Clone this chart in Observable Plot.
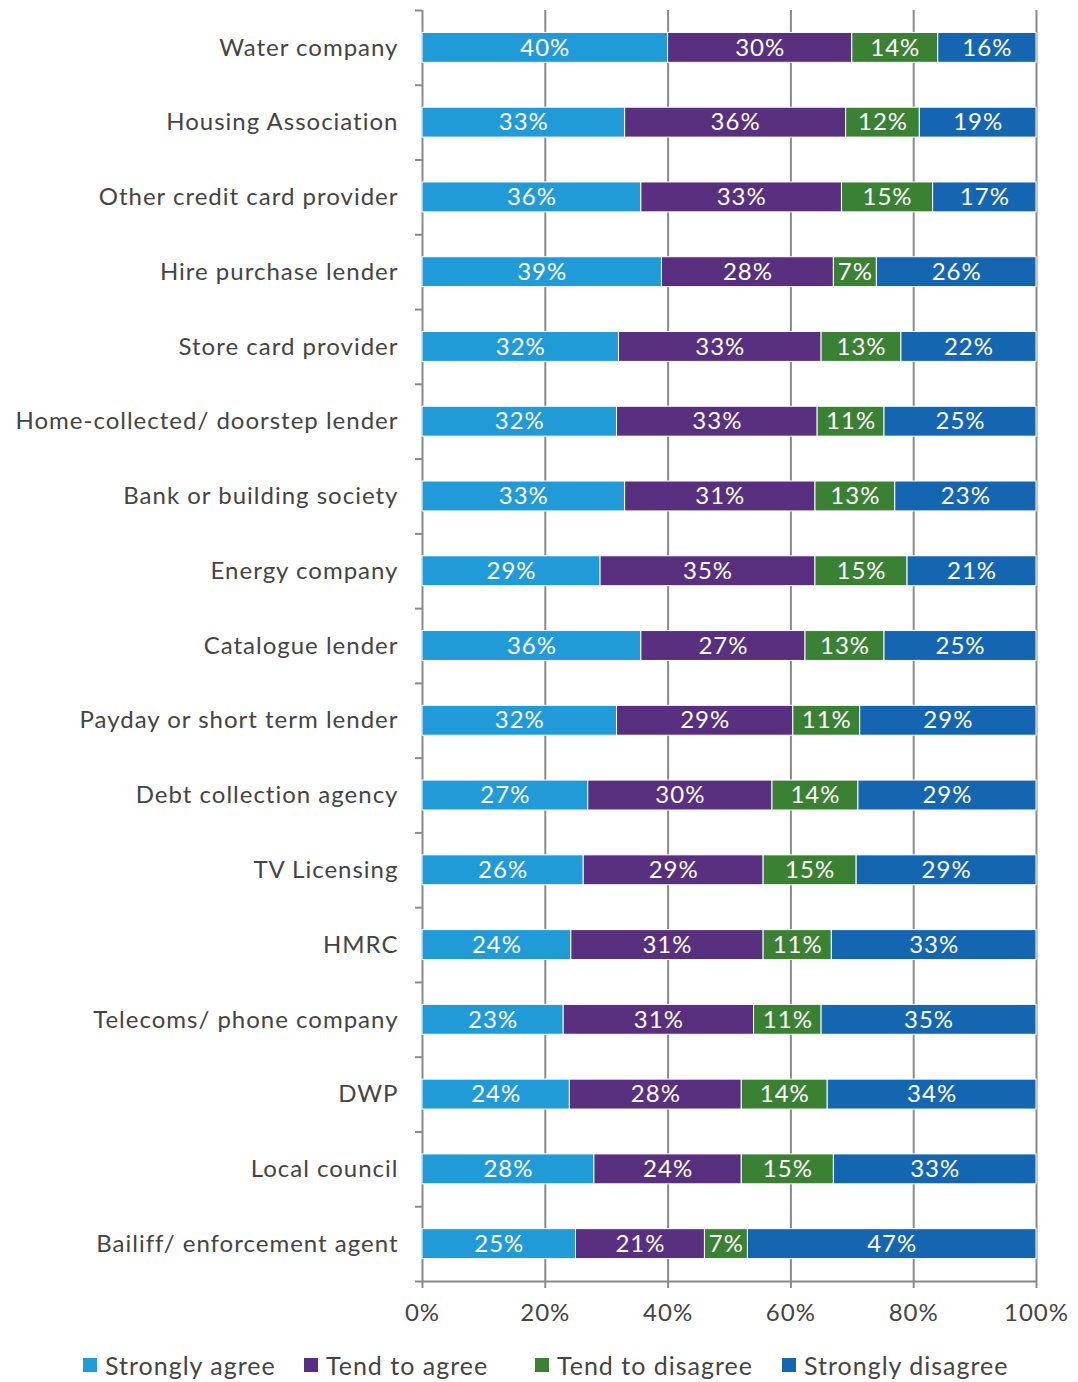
<!DOCTYPE html>
<html>
<head>
<meta charset="utf-8">
<script src="https://cdn.jsdelivr.net/npm/d3@7"></script>
<script src="https://cdn.jsdelivr.net/npm/@observablehq/plot@0.6"></script>
<style>
  html, body { margin: 0; padding: 0; background: #fff; }
  #chart { width: 1078px; }
  #chart svg text { letter-spacing: 1px; }
  .legend { position: relative; height: 42px; width: 1078px; font-family: Lato, "Open Sans", sans-serif; font-size: 25px; color: #444; letter-spacing: 1px; }
  .legend .item { position: absolute; top: 5px; display: flex; align-items: center; white-space: nowrap; }
  .legend .sw { width: 14px; height: 14px; margin-right: 8px; }
</style>
</head>
<body>
<div id="chart"></div>
<script>
const categories = [
  "Water company", "Housing Association", "Other credit card provider", "Hire purchase lender",
  "Store card provider", "Home-collected/ doorstep lender", "Bank or building society",
  "Energy company", "Catalogue lender", "Payday or short term lender", "Debt collection agency",
  "TV Licensing", "HMRC", "Telecoms/ phone company", "DWP", "Local council",
  "Bailiff/ enforcement agent"
];
const seriesNames = ["Strongly agree", "Tend to agree", "Tend to disagree", "Strongly disagree"];
const stronglyAgree   = [40, 33, 36, 39, 32, 32, 33, 29, 36, 32, 27, 26, 24, 23, 24, 28, 25];
const tendToAgree     = [30, 36, 33, 28, 33, 33, 31, 35, 27, 29, 30, 29, 31, 31, 28, 24, 21];
const tendToDisagree  = [14, 12, 15,  7, 13, 11, 13, 15, 13, 11, 14, 15, 11, 11, 14, 15,  7];
const stronglyDisagree= [16, 19, 17, 26, 22, 25, 23, 21, 25, 29, 29, 29, 33, 35, 34, 33, 47];
const colors = ["#219bd7", "#58307f", "#3b8134", "#1566b0"];
const xTicks = [0, 0.2, 0.4, 0.6, 0.8, 1];

const seriesValues = [stronglyAgree, tendToAgree, tendToDisagree, stronglyDisagree];
const data = [];
categories.forEach((c, i) => {
  seriesNames.forEach((s, j) => data.push({category: c, series: s, value: seriesValues[j][i]}));
});

const W = 1078, H = 1345, mTop = 10, mBottom = 64, mLeft = 422, mRight = 42;
const step = (H - mTop - mBottom) / categories.length;
const font = "Lato, 'Open Sans', sans-serif";
const grid = "#8a8a8a";

const chart = Plot.plot({
  width: W, height: H,
  marginTop: mTop, marginBottom: mBottom, marginLeft: mLeft, marginRight: mRight,
  style: {fontFamily: font, fontSize: "24px", color: "#444", background: "#fff"},
  x: {domain: [0, 1]},
  y: {domain: categories, paddingInner: 0.6, paddingOuter: 0.3, round: false, label: null},
  color: {domain: seriesNames, range: colors},
  marks: [
    Plot.gridX(xTicks, {stroke: grid, strokeOpacity: 1, strokeWidth: 2}),
    Plot.axisX(xTicks, {tickSize: 7, tickPadding: 15, stroke: grid, strokeWidth: 2, tickFormat: d => `${Math.round(d * 100)}%`, label: null, fill: "#444"}),
    Plot.axisY(categories, {tickSize: 7, dy: -step / 2, stroke: grid, strokeWidth: 2, tickFormat: () => "", label: null}),
    Plot.axisY([categories[categories.length - 1]], {tickSize: 7, dy: step / 2, stroke: grid, strokeWidth: 2, tickFormat: () => "", label: null}),
    Plot.ruleY([categories[categories.length - 1]], {dy: step / 2, stroke: grid, strokeWidth: 2}),
    Plot.axisY(categories, {tickSize: 0, tickPadding: 24, label: null, fill: "#444", fontSize: 24}),
    Plot.barX(data, Plot.stackX({x: "value", y: "category", z: "series", fill: "series", order: seriesNames, offset: "normalize", stroke: "white", strokeWidth: 1})),
    Plot.text(data, Plot.stackX({x: "value", y: "category", z: "series", order: seriesNames, offset: "normalize", text: d => `${d.value}%`, fill: "white", fontSize: 24}))
  ]
});
document.getElementById("chart").appendChild(chart);

const legend = document.createElement("div");
legend.className = "legend";
const legendX = [83, 304, 535, 782];
seriesNames.forEach((s, i) => {
  const item = document.createElement("div");
  item.className = "item";
  item.style.left = legendX[i] + "px";
  const sw = document.createElement("span");
  sw.className = "sw";
  sw.style.background = colors[i];
  const t = document.createElement("span");
  t.textContent = s;
  item.appendChild(sw);
  item.appendChild(t);
  legend.appendChild(item);
});
document.body.appendChild(legend);
</script>
</body>
</html>
